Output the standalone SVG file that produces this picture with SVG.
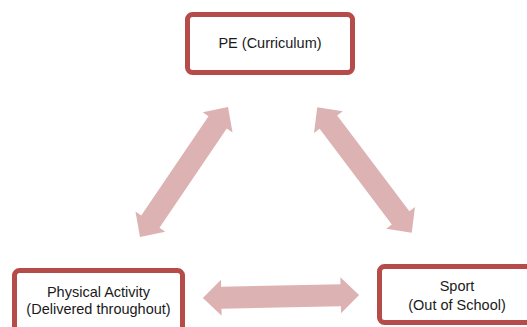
<svg xmlns="http://www.w3.org/2000/svg" width="527" height="327" viewBox="0 0 527 327">
<style>
.box{fill:#ffffff;stroke:#B64C4A;stroke-width:5}
.lbl{font-family:"Liberation Sans",Arial,sans-serif;font-size:14.5px;fill:#1a1a1a;text-anchor:middle}
.arr{fill:#DDB2B2}
</style>
<defs>
<path id="dbl" d="M -78.5,0 L -60,-18 L -60,-11 L 60,-11 L 60,-18 L 78.5,0 L 60,18 L 60,11 L -60,11 L -60,18 Z"/>
</defs>
<rect width="527" height="327" fill="#ffffff"/>
<g id="connectors">
<use href="#dbl" class="arr" transform="translate(184,172) rotate(-55.9)"/>
<use href="#dbl" class="arr" transform="translate(364.5,170) rotate(53)"/>
<use href="#dbl" class="arr" transform="translate(281,296.5) rotate(-1.1) scale(0.995,1)"/>
</g>
<g id="pe">
<rect class="box" x="187.5" y="14.5" width="165" height="58" rx="5"/>
<text class="lbl" x="270" y="48">PE (Curriculum)</text>
</g>
<g id="physical">
<rect class="box" x="14.5" y="270.5" width="168" height="70" rx="5"/>
<text class="lbl" x="98.5" y="297">Physical Activity</text>
<text class="lbl" x="98.5" y="313.5">(Delivered throughout)</text>
</g>
<g id="sport">
<rect class="box" x="379.5" y="266.5" width="160" height="56" rx="5"/>
<text class="lbl" x="457" y="290.5">Sport</text>
<text class="lbl" x="457" y="310">(Out of School)</text>
</g>
</svg>
